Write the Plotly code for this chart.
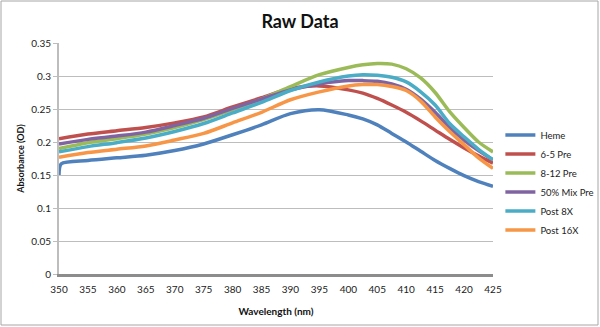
import plotly.graph_objects as go

wavelength = [350, 355, 360, 365, 370, 375, 380, 385, 390, 395, 400,
              402.5, 405, 407.5, 410, 412.5, 415, 417.5, 420, 422.5, 425]
heme_x = [350, 350.4] + wavelength[1:]
heme = [0.150, 0.167, 0.172, 0.176, 0.180, 0.187, 0.197, 0.211, 0.226, 0.243, 0.249, 0.241,
        0.235, 0.226, 0.213, 0.200, 0.186, 0.172, 0.160, 0.149, 0.140, 0.133]
pre_6_5 = [0.205, 0.212, 0.217, 0.222, 0.229, 0.238, 0.253, 0.267, 0.281, 0.285, 0.279,
           0.274, 0.266, 0.256, 0.245, 0.232, 0.218, 0.204, 0.191, 0.179, 0.168]
pre_8_12 = [0.190, 0.199, 0.205, 0.212, 0.222, 0.234, 0.249, 0.265, 0.284, 0.302, 0.313,
            0.317, 0.319, 0.318, 0.311, 0.297, 0.275, 0.246, 0.222, 0.200, 0.185]
mix_50 = [0.197, 0.204, 0.209, 0.215, 0.225, 0.236, 0.251, 0.265, 0.279, 0.288, 0.293,
          0.293, 0.292, 0.288, 0.280, 0.265, 0.245, 0.222, 0.203, 0.187, 0.173]
post_8x = [0.185, 0.193, 0.199, 0.206, 0.216, 0.228, 0.244, 0.260, 0.278, 0.291, 0.300,
           0.302, 0.301, 0.298, 0.291, 0.276, 0.256, 0.228, 0.208, 0.189, 0.173]
post_16x = [0.177, 0.184, 0.189, 0.194, 0.203, 0.213, 0.229, 0.245, 0.264, 0.276, 0.285,
            0.287, 0.287, 0.284, 0.278, 0.262, 0.238, 0.216, 0.196, 0.176, 0.160]

series_names = ["Heme", "6-5 Pre", "8-12 Pre", "50% Mix Pre", "Post 8X", "Post 16X"]
series_x = [heme_x, wavelength, wavelength, wavelength, wavelength, wavelength]
series_y = [heme, pre_6_5, pre_8_12, mix_50, post_8x, post_16x]
colors = ["#4F81BD", "#C0504D", "#9BBB59", "#8064A2", "#4BACC6", "#F79646"]

y_ticks = [0, 0.05, 0.1, 0.15, 0.2, 0.25, 0.3, 0.35]
y_tick_text = ["0", "0.05", "0.1", "0.15", "0.2", "0.25", "0.3", "0.35"]
x_ticks = list(range(350, 426, 5))

fig = go.Figure()
for name, xs, ys, c in zip(series_names, series_x, series_y, colors):
    fig.add_trace(go.Scatter(x=xs, y=ys, name=name, mode="lines",
                             line=dict(color=c, width=3.5, shape="spline", smoothing=0.8)))

font = "Lato, 'Open Sans', sans-serif"
fig.update_layout(
    width=600, height=327,
    margin=dict(l=59, r=107, t=43, b=53, autoexpand=False),
    paper_bgcolor="white", plot_bgcolor="white",
    font=dict(family=font, size=10, color="#222"),
    title=dict(text="<b>Raw Data</b>", x=0.5, xref="container", y=1 - 22/327, yanchor="middle",
               font=dict(size=18, color="#111", family=font)),
    showlegend=True,
    legend=dict(x=1.017, y=0.664, xanchor="left", yanchor="top", itemwidth=30,
                font=dict(size=9.5, color="#222"), tracegroupgap=0, bgcolor="rgba(0,0,0,0)"),
    xaxis=dict(range=[350, 425], tickvals=x_ticks, showgrid=False, zeroline=False,
               showline=True, linecolor="#8C8C8C", linewidth=3, automargin=False,
               ticks="", ticklabelstandoff=4, tickfont=dict(size=10, color="#222"),
               title=dict(text="<b>Wavelength (nm)</b>", font=dict(size=10, color="#111"), standoff=14)),
    yaxis=dict(range=[0, 0.35], tickvals=y_ticks, ticktext=y_tick_text, showgrid=True,
               gridcolor="#BDBDBD", gridwidth=1.3, zeroline=False, automargin=False,
               showline=True, linecolor="#BDBDBD", linewidth=2,
               ticks="outside", ticklen=4, tickcolor="#BDBDBD",
               tickfont=dict(size=10, color="#222"),
               title=dict(text="<b>Absorbance (OD)</b>", font=dict(size=9, color="#111"), standoff=5)),
    shapes=[dict(type="rect", xref="paper", yref="paper",
                 x0=-58/434, x1=(598-59)/434, y0=-(325-274)/231, y1=(274-1)/231,
                 line=dict(color="#A6A6A6", width=1))],
)

fig.write_html("out.html", config={"displayModeBar": False},
               post_script="document.body.style.margin='0';")
